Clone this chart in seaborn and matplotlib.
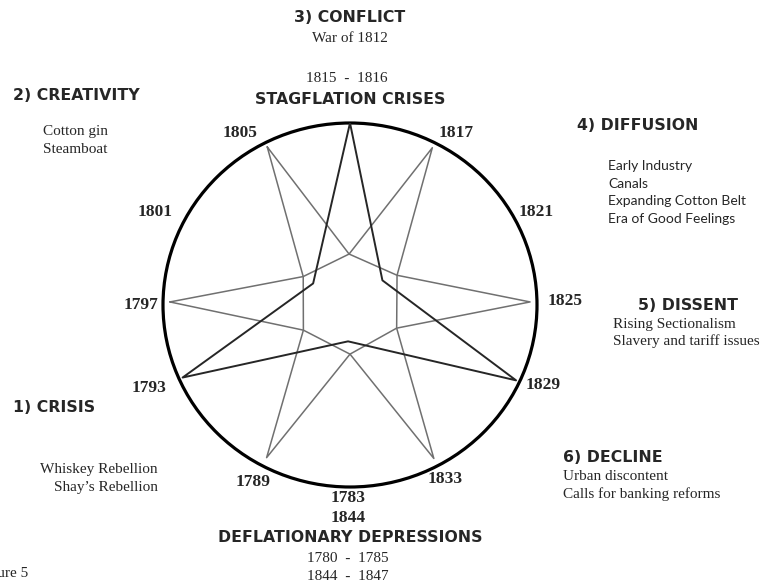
import numpy as np
import pandas as pd
import seaborn as sns
import matplotlib.pyplot as plt
from matplotlib.patches import Ellipse

sns.set_style("white")

# --- data: star vertices as (angle in degrees, radius as share of circle) ---
dark_angle = [90, 38, 335, 267, 204, 149, 90]
dark_radius = [1.0, 0.22, 0.98, 0.20, 0.98, 0.23, 1.0]

# gray figure, part A: four points (1805, 1817, 1833, 1789)
gray_a_angle = [117, 91, 63, 33, 333, 298, 270, 242, 209, 148, 117]
gray_a_radius = [0.975, 0.28, 0.97, 0.30, 0.28, 0.955, 0.27, 0.95, 0.285, 0.295, 0.975]

# gray figure, part B: two points (1797, 1825)
gray_b_angle = [179, 148, 91, 33, 1, 333, 270, 209, 179]
gray_b_radius = [0.963, 0.295, 0.28, 0.30, 0.963, 0.28, 0.27, 0.285, 0.963]

years = ["1789", "1793", "1797", "1801", "1805", "1817", "1821", "1825", "1829", "1833"]
year_angle = [242, 203, 180, 154, 122, 59, 27, 1, 337, 298]

phases = ["1) CRISIS", "2) CREATIVITY", "3) CONFLICT", "4) DIFFUSION", "5) DISSENT", "6) DECLINE"]
crisis_notes = ["Whiskey Rebellion", "Shay\u2019s Rebellion"]
creativity_notes = ["Cotton gin", "Steamboat"]
conflict_notes = ["War of 1812"]
diffusion_notes = ["Early Industry", "Canals", "Expanding Cotton Belt", "Era of Good Feelings"]
dissent_notes = ["Rising Sectionalism", "Slavery and tariff issues"]
decline_notes = ["Urban discontent", "Calls for banking reforms"]


def to_xy(angle, radius, name):
    a = np.deg2rad(angle)
    r = np.array(radius)
    return pd.DataFrame({"x": r * np.cos(a), "y": r * np.sin(a), "shape": name})


W, H = 763, 584
fig = plt.figure(figsize=(W / 100, H / 100), dpi=100)

# circle box in pixels: centre (350, 305), radii 187 x 182
cx, cy, rx, ry = 350, 305, 187, 182
ax = fig.add_axes([(cx - rx) / W, 1 - (cy + ry) / H, 2 * rx / W, 2 * ry / H])
ax.set_xlim(-1, 1)
ax.set_ylim(-1, 1)
ax.axis("off")

ax.add_patch(Ellipse((0, 0), 2, 2, fill=False, lw=2.3, color="black", clip_on=False))

sns.lineplot(data=to_xy(gray_a_angle, gray_a_radius, "a"), x="x", y="y", sort=False,
             estimator=None, color="#707070", lw=1.1, ax=ax, legend=False)
sns.lineplot(data=to_xy(gray_b_angle, gray_b_radius, "b"), x="x", y="y", sort=False,
             estimator=None, color="#707070", lw=1.1, ax=ax, legend=False)
sns.lineplot(data=to_xy(dark_angle, dark_radius, "dark"), x="x", y="y", sort=False,
             estimator=None, color="#262626", lw=1.4, ax=ax, legend=False)

# year labels around the circle
label_r = [1.10, 1.165, 1.12, 1.16, 1.113, 1.10, 1.12, 1.15, 1.12, 1.083]
for yr, ang, lr in zip(years, year_angle, label_r):
    a = np.deg2rad(ang)
    ax.text(lr * np.cos(a), lr * np.sin(a), yr, ha="center", va="center",
            family="Liberation Serif", fontweight="bold", fontsize=12.5, clip_on=False)


def px(x, y):
    return x / W, 1 - y / H


head = dict(family="DejaVu Sans", fontweight="bold", fontsize=11.3, va="center")
serif = dict(family="Liberation Serif", fontsize=11, va="center")
serif_b = dict(family="Liberation Serif", fontsize=12.5, fontweight="bold", va="center")
sans = dict(family="Lato", fontsize=10, va="center")

# top
fig.text(*px(350, 17), phases[2], ha="center", **head)
fig.text(*px(350, 39), conflict_notes[0], ha="center", **serif)
fig.text(*px(347, 78), "1815  -  1816", ha="center", **serif)
fig.text(*px(350, 99), "STAGFLATION CRISES", ha="center", **head)

# creativity
fig.text(*px(13, 95), phases[1], ha="left", **head)
for i, t in enumerate(creativity_notes):
    fig.text(*px(43, 132 + 17 * i), t, ha="left", **serif)

# diffusion
fig.text(*px(577, 125), phases[3], ha="left", **head)
for i, t in enumerate(diffusion_notes):
    fig.text(*px(608, 166 + 17.7 * i), t, ha="left", **sans)

# dissent
fig.text(*px(638, 305), phases[4], ha="left", **head)
for i, t in enumerate(dissent_notes):
    fig.text(*px(613, 325 + 16.5 * i), t, ha="left", **serif)

# crisis
fig.text(*px(13, 408), phases[0], ha="left", **head)
for i, t in enumerate(crisis_notes):
    fig.text(*px(158, 470 + 17 * i), t, ha="right", **serif)

# decline
fig.text(*px(563, 458), phases[5], ha="left", **head)
for i, t in enumerate(decline_notes):
    fig.text(*px(563, 476 + 18 * i), t, ha="left", **serif)

# bottom
fig.text(*px(348, 498), "1783", ha="center", **serif_b)
fig.text(*px(348, 518), "1844", ha="center", **serif_b)
fig.text(*px(350, 538), "DEFLATIONARY DEPRESSIONS", ha="center", **head)
fig.text(*px(348, 558), "1780  -  1785", ha="center", **serif)
fig.text(*px(348, 576), "1844  -  1847", ha="center", **serif)

# caption is cut at the left edge in the original figure too
fig.text(*px(28, 573), "Figure 5", ha="right", **serif)

fig.savefig("out.png", dpi=100, facecolor="white")
